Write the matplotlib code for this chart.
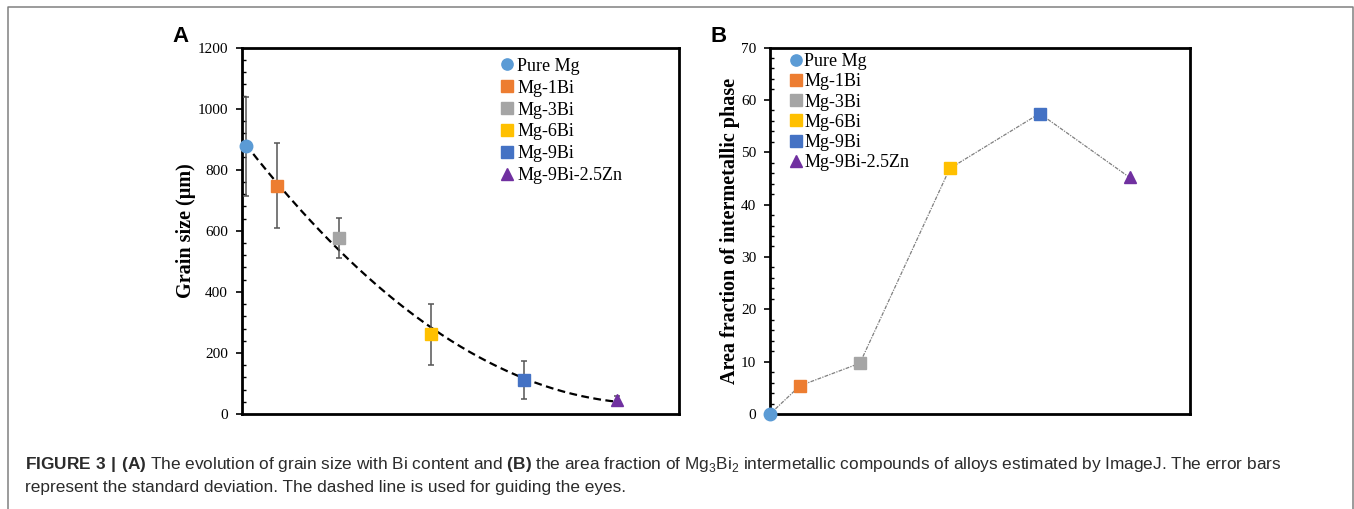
import numpy as np
import matplotlib
matplotlib.use("Agg")
import matplotlib.pyplot as plt
from matplotlib.lines import Line2D
from matplotlib.ticker import MultipleLocator

plt.rcParams['mathtext.fontset'] = 'custom'
plt.rcParams['mathtext.rm'] = 'Liberation Sans'
plt.rcParams['mathtext.bf'] = 'Liberation Sans:bold'

# dati
alloys = ['Pure Mg', 'Mg-1Bi', 'Mg-3Bi', 'Mg-6Bi', 'Mg-9Bi', 'Mg-9Bi-2.5Zn']
x_pos = [0, 1, 3, 6, 9, 12]
grain_size = [876, 748, 576, 261, 112, 46]
grain_std = [162, 140, 65, 100, 62, 12]
area_frac = [0, 5.4, 9.7, 46.9, 57.4, 45.2]

colors = ['#5B9BD5', '#ED7D31', '#A5A5A5', '#FFC000', '#4472C4', '#7030A0']
markers = ['o', 's', 's', 's', 's', '^']

serif = 'Liberation Serif'

fig = plt.figure(figsize=(13.54, 5.09), dpi=100)
axA = fig.add_axes([0.1787, 0.1866, 0.3227, 0.720])
axB = fig.add_axes([0.5687, 0.1866, 0.3102, 0.720])


def style_axis(ax, ymax, major, minor):
    ax.set_ylim(0, ymax)
    ax.yaxis.set_major_locator(MultipleLocator(major))
    ax.yaxis.set_minor_locator(MultipleLocator(minor))
    ax.tick_params(axis='y', which='major', direction='out', length=4, width=1.2,
                   pad=6, labelsize=11)
    ax.tick_params(axis='y', which='minor', direction='in', length=3, width=1)
    ax.tick_params(axis='x', which='both', bottom=False, labelbottom=False)
    for lab in ax.get_yticklabels():
        lab.set_fontfamily(serif)
    for sp in ax.spines.values():
        sp.set_linewidth(2)
        sp.set_color('black')


# --- pannello A
axA.set_xlim(-0.12, 14.0)
style_axis(axA, 1200, 200, 40)
coef = np.polyfit(x_pos, grain_size, 2)
xx = np.linspace(x_pos[0], x_pos[-1], 200)
axA.plot(xx, np.polyval(coef, xx), color='black', lw=1.6, ls=(0, (3.5, 2)), zorder=3)
for i in range(len(alloys)):
    axA.errorbar(x_pos[i], grain_size[i], yerr=grain_std[i], fmt='none',
                 ecolor='#555555', elinewidth=1.1, capsize=2.5, capthick=1.1,
                 zorder=3, clip_on=False)
    axA.plot(x_pos[i], grain_size[i], marker=markers[i], color=colors[i], ms=9,
             ls='none', label=alloys[i], zorder=4, clip_on=False)
axA.set_ylabel('Grain size (μm)', fontfamily=serif, fontweight='bold', fontsize=14.5)
axA.yaxis.set_label_coords(-0.105, 0.5)
axA.legend(loc='upper left', bbox_to_anchor=(0.593, 0.972), frameon=False,
           prop={'family': serif, 'size': 13}, handlelength=0.7,
           handletextpad=0.2, labelspacing=0.27, borderpad=0, borderaxespad=0,
           markerscale=0.9)

# --- pannello B
axB.set_xlim(0, 14.02)
style_axis(axB, 70, 10, 2)
axB.plot(x_pos, area_frac, color='#7f7f7f', lw=0.9, ls=(0, (3, 1, 1, 1)), zorder=2)
for i in range(len(alloys)):
    axB.plot(x_pos[i], area_frac[i], marker=markers[i], color=colors[i], ms=9,
             ls='none', label=alloys[i], zorder=4, clip_on=False)
axB.set_ylabel('Area fraction of intermetallic phase', fontfamily=serif,
               fontweight='bold', fontsize=14.5)
axB.yaxis.set_label_coords(-0.071, 0.5)
axB.legend(loc='upper left', bbox_to_anchor=(0.047, 0.985), frameon=False,
           prop={'family': serif, 'size': 13}, handlelength=0.7,
           handletextpad=0.1, labelspacing=0.18, borderpad=0, borderaxespad=0,
           markerscale=0.9)

# lettere dei pannelli
fig.text(172 / 1354, 1 - 42 / 509, 'A', fontfamily='Liberation Sans',
         fontweight='bold', fontsize=16, va='baseline', ha='left')
fig.text(710 / 1354, 1 - 42 / 509, 'B', fontfamily='Liberation Sans',
         fontweight='bold', fontsize=16, va='baseline', ha='left')

# didascalia
line1 = (r"$\mathbf{FIGURE\ 3\ |\ (A)}$ The evolution of grain size with Bi content and "
         r"$\mathbf{(B)}$ the area fraction of Mg$_\mathregular{3}$Bi$_\mathregular{2}$ "
         r"intermetallic compounds of alloys estimated by ImageJ. The error bars")
line2 = "represent the standard deviation. The dashed line is used for guiding the eyes."
fig.text(25 / 1354, 1 - 469 / 509, line1, fontfamily='Liberation Sans', fontsize=12.4,
         color='#2b2b2b', va='baseline', ha='left')
fig.text(25 / 1354, 1 - 492 / 509, line2, fontfamily='Liberation Sans', fontsize=12.4,
         color='#2b2b2b', va='baseline', ha='left')

# cornice esterna (aperta in basso)
W, H = 1354, 509
fig.add_artist(Line2D([8 / W, 8 / W, 1353 / W, 1353 / W],
                      [0, 1 - 6.5 / H, 1 - 6.5 / H, 0],
                      transform=fig.transFigure, color='#808080', lw=1.1))

fig.savefig('out.png', dpi=100)
